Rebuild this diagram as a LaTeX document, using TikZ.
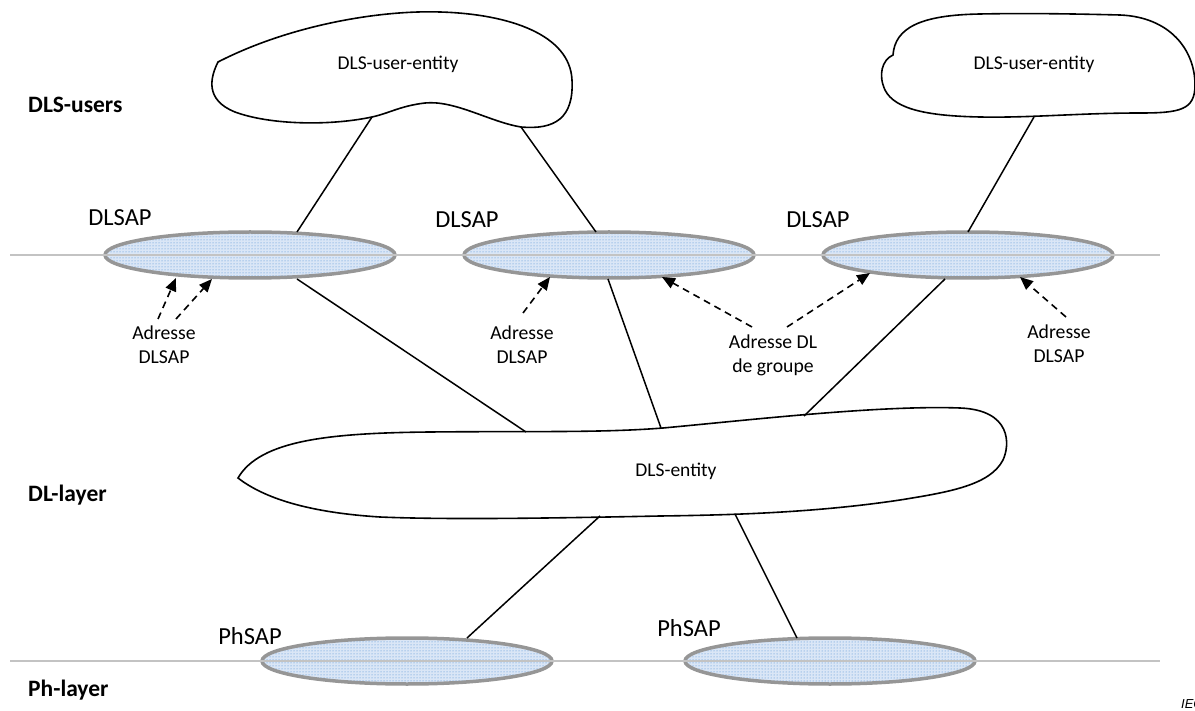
\documentclass[tikz,border=0pt]{standalone}
\usepackage{fontspec}
\setmainfont{Carlito}
\newfontfamily\iecfont{Liberation Sans}
\usetikzlibrary{shapes.geometric,patterns,arrows.meta}
\definecolor{sapgray}{RGB}{150,150,150}
\definecolor{linegray}{RGB}{195,195,195}
\definecolor{sapdot}{RGB}{70,135,210}
\definecolor{sapfill}{RGB}{218,230,246}
\tikzset{
  sap/.style={ellipse, draw=sapgray, line width=3.5pt, minimum width=290pt, minimum height=46pt, inner sep=0pt,
    preaction={fill=sapfill}, pattern=dots, pattern color=sapdot},
  cloud/.style={draw=black, line width=1.6pt, fill=white},
  conn/.style={draw=black, line width=1.5pt},
  addr/.style={draw=black, line width=1.6pt, dash pattern=on 7pt off 5pt, -{Triangle[length=13pt,width=11pt]}},
  layer/.style={font=\fontsize{23.5}{28}\selectfont\bfseries, anchor=west, inner sep=0pt},
  saplabel/.style={font=\fontsize{24.5}{28}\selectfont, inner sep=0pt},
  txt/.style={font=\fontsize{19.7}{24}\selectfont, inner sep=0pt, align=center},
  etxt/.style={font=\fontsize{19.5}{23}\selectfont, inner sep=0pt},
}
\begin{document}
\begin{tikzpicture}[x=1pt,y=-1pt]
\useasboundingbox (0,0) rectangle (1195,711);

% clouds
\draw[cloud] (218,62) .. controls (290,25) and (380,10) .. (440,12)
  .. controls (510,14) and (570,35) .. (572,80)
  .. controls (574,118) and (555,130) .. (521,127)
  .. controls (490,122) and (455,100) .. (425,103)
  .. controls (400,106) and (390,113) .. (372,117)
  .. controls (330,126) and (270,125) .. (235,112)
  .. controls (205,100) and (210,78) .. (218,62) -- cycle;
\node[etxt] (ue1) at (398,64) {DLS-user-entity};

\draw[cloud] (893,55) .. controls (895,28) and (920,15) .. (980,14)
  .. controls (1030,13) and (1080,14) .. (1120,15)
  .. controls (1170,17) and (1195,50) .. (1195,85)
  .. controls (1195,110) and (1180,113) .. (1140,113)
  .. controls (1080,113) and (1030,118) .. (980,117)
  .. controls (930,116) and (895,110) .. (885,90)
  .. controls (878,75) and (882,60) .. (893,55) -- cycle;
\node[etxt] (ue2) at (1034,64) {DLS-user-entity};

\draw[cloud] (238,478) .. controls (260,440) and (330,433) .. (430,432)
  .. controls (530,431) and (600,433) .. (663,428)
  .. controls (750,420) and (880,405) .. (960,408)
  .. controls (1012,410) and (1010,445) .. (1003,460)
  .. controls (990,485) and (950,492) .. (900,500)
  .. controls (820,512) and (740,515) .. (660,516)
  .. controls (560,518) and (450,520) .. (380,517)
  .. controls (300,512) and (260,495) .. (238,478) -- cycle;
\node[etxt] (ent) at (676,471) {DLS-entity};

% SAP ellipses
\node[sap] (s1) at (250,255) {};
\node[sap] (s2) at (609,255) {};
\node[sap] (s3) at (968,255) {};
\node[sap] (p1) at (407,661) {};
\node[sap] (p2) at (830,661) {};

% baselines
\coordinate (dlA) at (10,255); \coordinate (dlB) at (1160,255);
\coordinate (phA) at (10,661); \coordinate (phB) at (1160,661);
\draw[linegray, line width=2pt] (dlA) -- (dlB);
\draw[linegray, line width=2pt] (phA) -- (phB);

% connector end points
\coordinate (ue1a) at (372,117); \coordinate (ue1b) at (521,127);
\coordinate (ue2a) at (1034,117);
\coordinate (s1t) at (297,232); \coordinate (s2t) at (596,232); \coordinate (s3t) at (968,232);
\coordinate (s1b) at (297,279); \coordinate (s2b) at (608,279); \coordinate (s3b) at (945,279);
\coordinate (ent1) at (526,432); \coordinate (ent2) at (661,428); \coordinate (ent3) at (804,416);
\coordinate (ent4) at (600,516); \coordinate (ent5) at (735,514);
\coordinate (p1t) at (467,638); \coordinate (p2t) at (797,638);

\draw[conn] (ue1a) -- (s1t);
\draw[conn] (ue1b) -- (s2t);
\draw[conn] (ue2a) -- (s3t);
\draw[conn] (s1b) -- (ent1);
\draw[conn] (s2b) -- (ent2);
\draw[conn] (s3b) -- (ent3);
\draw[conn] (ent4) -- (p1t);
\draw[conn] (ent5) -- (p2t);

% labels
\node[layer] (lu) at (28,105) {DLS-users};
\node[layer] (ll) at (28,495) {DL-layer};
\node[layer] (lp) at (28,690) {Ph-layer};
\node[saplabel] (t1) at (120,218) {DLSAP};
\node[saplabel] (t2) at (467,220) {DLSAP};
\node[saplabel] (t3) at (818,220) {DLSAP};
\node[saplabel] (t4) at (250,636) {PhSAP};
\node[saplabel] (t5) at (689,628) {PhSAP};

\node[txt] (a1) at (164,345) {Adresse\\DLSAP};
\node[txt] (a2) at (522,345) {Adresse\\DLSAP};
\node[txt] (a3) at (773,355) {Adresse DL\\de groupe};
\node[txt] (a4) at (1059,344) {Adresse\\DLSAP};

% address arrows
\coordinate (a1s1) at (158,319); \coordinate (a1e1) at (176,278);
\coordinate (a1s2) at (176,319); \coordinate (a1e2) at (212,279);
\coordinate (a2s) at (523,313); \coordinate (a2e) at (550,277);
\coordinate (a3s1) at (752,327); \coordinate (a3e1) at (662,277);
\coordinate (a3s2) at (787,327); \coordinate (a3e2) at (870,273);
\coordinate (a4s) at (1066,317); \coordinate (a4e) at (1020,277);
\draw[addr] (a1s1) -- (a1e1);
\draw[addr] (a1s2) -- (a1e2);
\draw[addr] (a2s) -- (a2e);
\draw[addr] (a3s1) -- (a3e1);
\draw[addr] (a3s2) -- (a3e2);
\draw[addr] (a4s) -- (a4e);

\node[font=\iecfont\itshape\fontsize{13}{15}\selectfont, anchor=west, inner sep=0pt] (iec) at (1181,704) {IEC};
\end{tikzpicture}
\end{document}
